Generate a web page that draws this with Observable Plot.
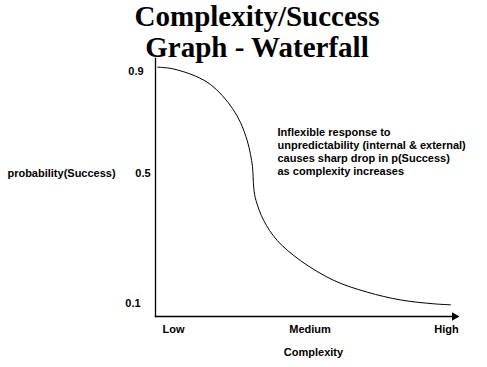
<!DOCTYPE html>
<html>
<head>
<meta charset="utf-8">
<script src="https://cdn.jsdelivr.net/npm/d3@7"></script>
<script src="https://cdn.jsdelivr.net/npm/@observablehq/plot@0.6"></script>
<style>
  html, body { margin: 0; padding: 0; background: #fff; }
  #wrap { position: relative; width: 487px; height: 367px; overflow: hidden; }
  #title { position: absolute; left: 57px; top: 1px; width: 400px; text-align: center;
    font-family: "Liberation Serif", "Times New Roman", serif; font-weight: bold; font-size: 29px;
    line-height: 31px; color: #000; pointer-events: none; }
</style>
</head>
<body>
<div id="wrap">
  <div id="chart"></div>
  <div id="title">Complexity/Success<br>Graph - Waterfall</div>
</div>
<script>
// Data
const xTickValues = [0, 0.5, 1];
const xTickLabels = ["Low", "Medium", "High"];
const yTickValues = [0.1, 0.5, 0.9];
const xLabel = "Complexity";
const yLabel = "probability(Success)";
const note = "Inflexible response to\nunpredictability (internal & external)\ncauses sharp drop in p(Success)\nas complexity increases";

// curve: complexity (0 = Low, 1 = High) and probability of success
const complexity = [-0.0575, -0.0048, 0.0806, 0.1355, 0.1784, 0.2161, 0.2454, 0.270, 0.282, 0.2894, 0.2916, 0.2941, 0.3022, 0.3308, 0.3799, 0.4652, 0.5872, 0.7095, 0.8315, 0.9535, 1.0147];
const probability = [0.917, 0.911, 0.882, 0.849, 0.806, 0.755, 0.700, 0.629, 0.575, 0.527, 0.491, 0.454, 0.417, 0.355, 0.294, 0.232, 0.171, 0.135, 0.111, 0.099, 0.096];

const curve = complexity.map((c, i) => ({c, p: probability[i]}));
const yLabelDx = [-22.5, -12.5, -19.5];

const chart = Plot.plot({
  width: 487,
  height: 367,
  marginLeft: 155,
  marginRight: 30,
  marginTop: 58,
  marginBottom: 51,
  x: {type: "linear", domain: [0, 1], range: [173, 446], axis: null},
  y: {type: "linear", domain: [0.1, 0.5, 0.9], range: [303, 173, 71], axis: null},
  style: {fontFamily: "'Liberation Sans', Arial, sans-serif", fontWeight: "bold", fontSize: "11px", background: "#fff", color: "#000"},
  marks: [
    Plot.frame({anchor: "left", stroke: "#000", strokeWidth: 1.3}),
    Plot.frame({anchor: "bottom", stroke: "#000", strokeWidth: 1.3}),
    Plot.dot([0], {frameAnchor: "bottom-right", symbol: "triangle", r: 3.2, fill: "#000", stroke: "none", rotate: 90, dx: -3}),
    Plot.line(curve, {x: "c", y: "p", curve: "catmull-rom", stroke: "#000", strokeWidth: 1}),
    Plot.axisX({ticks: xTickValues, tickFormat: (d) => xTickLabels[xTickValues.indexOf(d)], tickSize: 0, tickPadding: 9, label: null, fontSize: 11}),
    ...yTickValues.map((t, i) => Plot.text([t], {y: d => d, text: d => d.toFixed(1), frameAnchor: "left", dx: yLabelDx[i], textAnchor: "middle"})),
    Plot.text([0.5], {y: d => d, text: () => yLabel, frameAnchor: "left", dx: -94, textAnchor: "middle"}),
    Plot.text([xLabel], {text: d => d, frameAnchor: "bottom", dx: 7, dy: 39}),
    Plot.text([note], {text: d => d, frameAnchor: "top-left", dx: 122, dy: 68, textAnchor: "start", lineAnchor: "top", lineHeight: 13 / 11})
  ]
});
document.getElementById("chart").appendChild(chart);
</script>
</body>
</html>
